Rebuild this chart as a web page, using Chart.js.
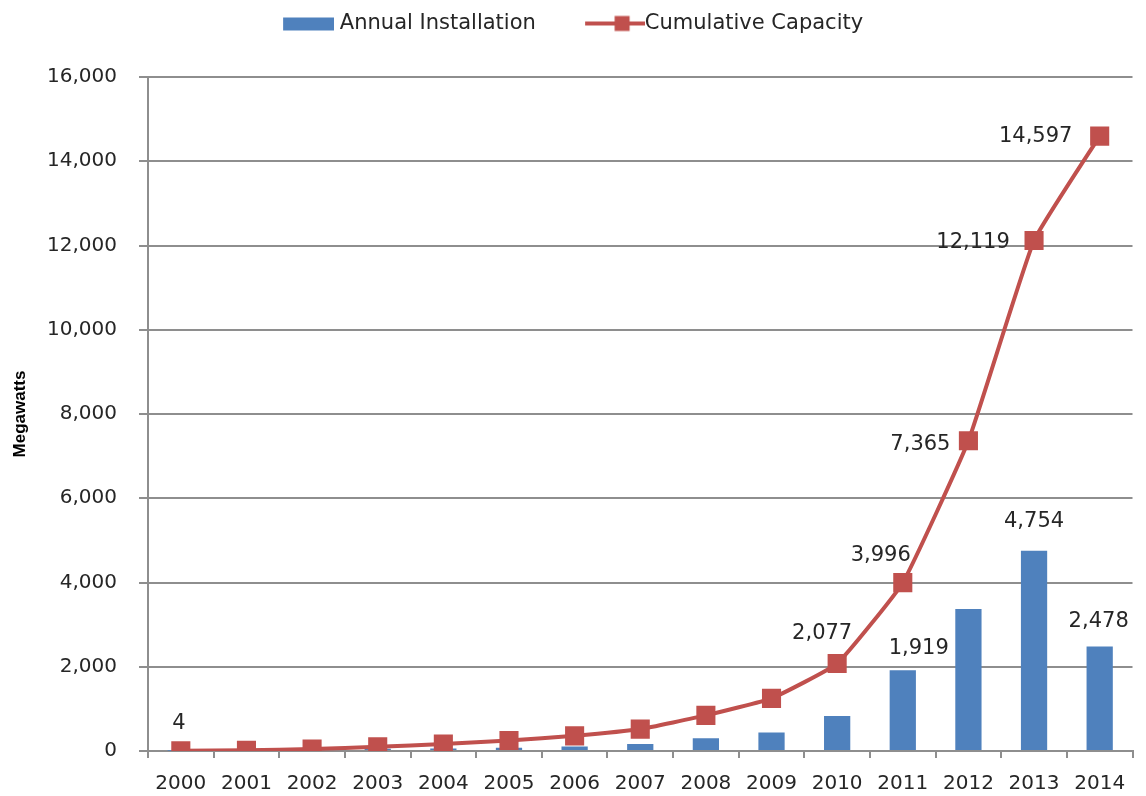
<!DOCTYPE html>
<html>
<head>
<meta charset="utf-8">
<script src="https://cdn.jsdelivr.net/npm/chart.js@4.4.1/dist/chart.umd.min.js"></script>
<style>
  html, body { margin: 0; padding: 0; background: #ffffff; }
  #wrap { width: 1146px; height: 796px; position: relative; }
</style>
</head>
<body>
<div id="wrap"><canvas id="chart"></canvas></div>
<script>
// ---- data ----
const years = ['2000','2001','2002','2003','2004','2005','2006','2007','2008','2009','2010','2011','2012','2013','2014'];
const annualInstallation = [4, 11, 30, 55, 60, 80, 105, 165, 305, 440, 830, 1919, 3369, 4754, 2478];
const cumulativeCapacity = [4, 15, 45, 100, 165, 250, 360, 520, 845, 1250, 2077, 3996, 7365, 12119, 14597];
const seriesNames = ['Annual Installation', 'Cumulative Capacity'];
const yAxisTitle = 'Megawatts';
const yMin = 0, yMax = 16000, yStep = 2000;
// indices of points that carry a value label
const annualLabelIdx = [11, 13, 14];
const cumulativeLabelIdx = [0, 10, 11, 12, 13, 14];

// ---- styles ----
const BAR = '#4F81BD';
const RED = '#C0504D';
const GRID = '#8e8e8e';
const TXT = '#262626';
// label offsets (pixels, relative to the element) keyed by index
const annualLabelOffset = {11: [16, -22], 13: [0, -29], 14: [-1, -25]};
const cumulativeLabelOffset = {0: [-2, -27], 10: [-15, -30], 11: [-22, -27], 12: [-48, 4], 13: [-61, 2], 14: [-64, 0]};

function fmt(v) { return String(v).replace(/\B(?=(\d{3})+(?!\d))/g, ','); }

function boxImg() {
  const c = document.createElement('canvas');
  c.width = 62; c.height = 22;
  const g = c.getContext('2d');
  g.fillStyle = BAR;
  g.fillRect(11, 5, 51, 13);
  return c;
}
function lineImg() {
  const c = document.createElement('canvas');
  c.width = 74; c.height = 22;
  const g = c.getContext('2d');
  g.strokeStyle = RED; g.lineWidth = 4;
  g.beginPath(); g.moveTo(14, 11); g.lineTo(74, 11); g.stroke();
  g.fillStyle = RED;
  g.fillRect(51 - 7.5, 11 - 7.5, 15, 15);
  return c;
}

const dataLabels = {
  id: 'dataLabels',
  afterDatasetsDraw(chart) {
    const ctx = chart.ctx;
    ctx.save();
    ctx.font = '21px "DejaVu Sans"';
    ctx.fillStyle = TXT;
    ctx.textAlign = 'center';
    ctx.textBaseline = 'middle';
    const specs = [
      {ds: 0, idx: annualLabelIdx, off: annualLabelOffset},
      {ds: 1, idx: cumulativeLabelIdx, off: cumulativeLabelOffset}
    ];
    specs.forEach(s => {
      const meta = chart.getDatasetMeta(s.ds);
      const data = chart.data.datasets[s.ds].data;
      s.idx.forEach(i => {
        const el = meta.data[i];
        const o = s.off[i] || [0, -20];
        ctx.fillText(fmt(data[i]), el.x + o[0], el.y + o[1]);
      });
    });
    ctx.restore();
  }
};

const legendImgs = [boxImg(), lineImg()];

new Chart(document.getElementById('chart'), {
  data: {
    labels: years,
    datasets: [
      {
        type: 'bar',
        label: seriesNames[0],
        data: annualInstallation,
        backgroundColor: BAR,
        borderWidth: 0,
        barPercentage: 0.4,
        categoryPercentage: 1.0,
        order: 1
      },
      {
        type: 'line',
        label: seriesNames[1],
        data: cumulativeCapacity,
        borderColor: RED,
        backgroundColor: RED,
        borderWidth: 4,
        pointStyle: 'rect',
        pointRadius: 13.5,
        pointBorderWidth: 0,
        pointBackgroundColor: RED,
        tension: 0.12,
        fill: false,
        order: 0
      }
    ]
  },
  options: {
    responsive: true,
    maintainAspectRatio: false,
    animation: false,
    events: [],
    layout: { padding: { top: -33, left: 0, right: 6, bottom: 0 } },
    plugins: {
      tooltip: { enabled: false },
      legend: {
        display: true,
        position: 'top',
        align: 'center',
        labels: {
          usePointStyle: true,
          pointStyleWidth: 52.5,
          padding: 46,
          color: TXT,
          font: { family: '"DejaVu Sans"', size: 21 },
          sort: (a, b) => a.datasetIndex - b.datasetIndex,
          generateLabels(chart) {
            const items = Chart.defaults.plugins.legend.labels.generateLabels(chart);
            items.forEach(it => { it.pointStyle = legendImgs[it.datasetIndex]; });
            return items;
          }
        }
      },
      subtitle: {
        display: true,
        text: '',
        weight: 500,
        position: 'top',
        font: { size: 10 },
        padding: { top: 0, bottom: 21 }
      }
    },
    scales: {
      x: {
        offset: true,
        grid: {
          offset: true,
          drawOnChartArea: false,
          drawTicks: true,
          tickLength: 7,
          color: GRID,
          lineWidth: 2
        },
        border: { display: true, color: GRID, width: 2 },
        ticks: {
          color: TXT,
          font: { family: '"DejaVu Sans"', size: 20 },
          padding: 14,
          maxRotation: 0,
          autoSkip: false
        },
        afterFit(scale) { scale.height = 45; }
      },
      y: {
        min: yMin,
        max: yMax,
        grid: {
          color: GRID,
          lineWidth: 2,
          tickLength: 9,
          drawTicks: true
        },
        border: { display: true, color: GRID, width: 2 },
        ticks: {
          stepSize: yStep,
          color: TXT,
          font: { family: '"DejaVu Sans"', size: 20 },
          padding: 22,
          callback: v => fmt(v)
        },
        title: {
          display: true,
          text: yAxisTitle,
          color: '#000',
          font: { family: '"Liberation Sans", Arial, sans-serif', size: 17, weight: 'bold' },
          padding: { top: 10, bottom: 0 }
        },
        afterFit(scale) { scale.width = 148; }
      }
    }
  },
  plugins: [dataLabels]
});
</script>
</body>
</html>
